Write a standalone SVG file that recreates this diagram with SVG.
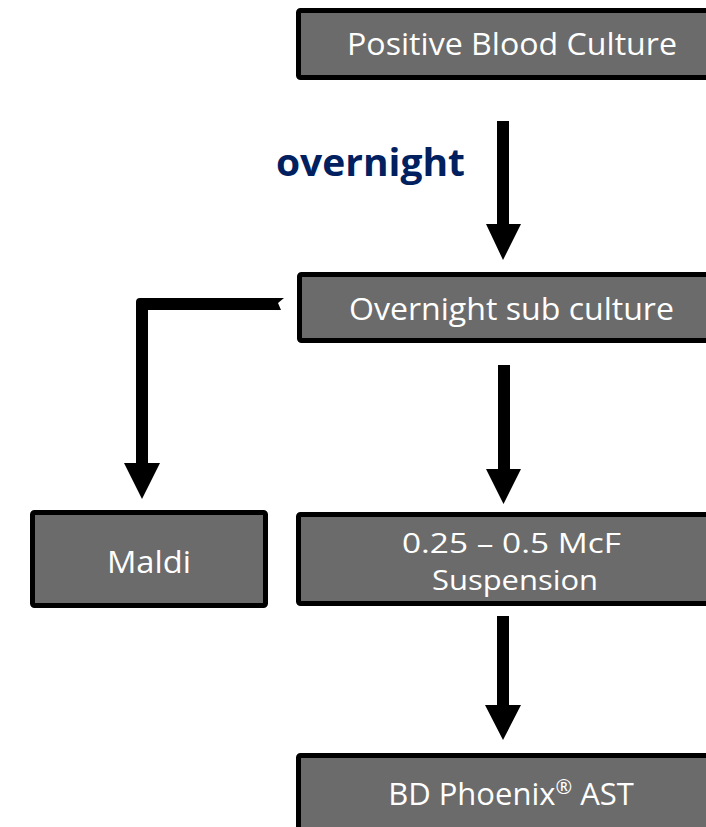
<svg xmlns="http://www.w3.org/2000/svg" width="706" height="827" viewBox="0 0 706 827">
<style>
.box{fill:#6b6b6b;stroke:#000;stroke-width:5;}
.lbl{font-family:"Open Sans","Liberation Sans",sans-serif;font-size:31px;fill:#fff;text-anchor:middle;}
.two{font-size:28px;}
.arr{fill:#000;}
.note{font-family:"Open Sans","Liberation Sans",sans-serif;font-size:38px;font-weight:bold;fill:#002060;}
</style>
<rect width="706" height="827" fill="#fff"/>
<g id="connectors">
<polygon class="arr" points="497,121 509,121 509,224 521,224 503,260 486,224 497,224"/>
<polygon class="arr" points="498,365 510,365 510,469 521,469 503.5,504 486,469 498,469"/>
<polygon class="arr" points="497,616 509,616 509,705 521,705 503,740 485,705 497,705"/>
<path class="arr" d="M284,298 L278,303 L281,310 L148,310 L148,463 L160,463 L142,499 L124,463 L136,463 L136,302 Q136,298 140,298 Z"/>
<text class="note" x="276" y="175.5" textLength="189" lengthAdjust="spacingAndGlyphs">overnight</text>
</g>
<g id="node-positive-blood-culture">
<rect class="box" x="298.5" y="10.5" width="440" height="67" rx="2"/>
<text class="lbl" x="512" y="55" textLength="330" lengthAdjust="spacingAndGlyphs">Positive Blood Culture</text>
</g>
<g id="node-overnight-sub-culture">
<rect class="box" x="299.5" y="274.5" width="440" height="66" rx="2"/>
<text class="lbl" x="511.5" y="320" textLength="325" lengthAdjust="spacingAndGlyphs">Overnight sub culture</text>
</g>
<g id="node-maldi">
<rect class="box" x="32.5" y="512.5" width="233" height="93" rx="2"/>
<text class="lbl" x="149" y="573" textLength="84" lengthAdjust="spacingAndGlyphs">Maldi</text>
</g>
<g id="node-suspension">
<rect class="box" x="298.5" y="514.5" width="440" height="89" rx="2"/>
<text class="lbl two" x="511.5" y="553" textLength="219" lengthAdjust="spacingAndGlyphs">0.25 – 0.5 McF</text>
<text class="lbl two" x="515" y="590" textLength="166" lengthAdjust="spacingAndGlyphs">Suspension</text>
</g>
<g id="node-bd-phoenix">
<rect class="box" x="298.5" y="755.5" width="440" height="120" rx="2"/>
<text class="lbl" x="511" y="805">BD Phoenix<tspan font-size="20" dy="-11">®</tspan><tspan dy="11"> AST</tspan></text>
</g>
</svg>
